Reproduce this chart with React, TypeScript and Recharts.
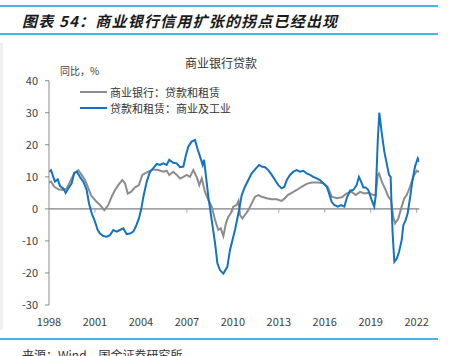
import React from 'react';
import { LineChart, Line, XAxis, YAxis, ReferenceLine } from 'recharts';

const seriesNames = ['商业银行：贷款和租赁', '贷款和租赁：商业及工业'];
const xTicks = [1998, 2001, 2004, 2007, 2010, 2013, 2016, 2019, 2022];
const yTicks = [-30, -20, -10, 0, 10, 20, 30, 40];

const grayYears = [
  1998.0, 1998.13, 1998.35, 1998.61, 1998.93, 1999.16, 1999.37, 1999.65, 1999.91, 2000.13,
  2000.35, 2000.53, 2000.74, 2000.96, 2001.11, 2001.33, 2001.61, 2001.87, 2002.09, 2002.31,
  2002.52, 2002.78, 2002.96, 2003.14, 2003.35, 2003.61, 2003.87, 2004.09, 2004.27, 2004.48,
  2004.81, 2005.13, 2005.46, 2005.68, 2005.85, 2006.11, 2006.34, 2006.55, 2006.77, 2006.99,
  2007.2, 2007.42, 2007.64, 2007.81, 2007.97, 2008.18, 2008.4, 2008.62, 2008.84, 2009.05,
  2009.21, 2009.38, 2009.55, 2009.7, 2009.86, 2010.03, 2010.25, 2010.37, 2010.47, 2010.62,
  2010.79, 2011.01, 2011.23, 2011.45, 2011.66, 2011.88, 2012.21, 2012.54, 2012.86, 2013.19,
  2013.4, 2013.58, 2013.84, 2014.17, 2014.49, 2014.82, 2015.15, 2015.58, 2015.9, 2016.19,
  2016.45, 2016.78, 2017.11, 2017.43, 2017.76, 2018.02, 2018.3, 2018.58, 2018.89, 2019.17,
  2019.32, 2019.46, 2019.54, 2019.72, 2019.93, 2020.15, 2020.32, 2020.47, 2020.59, 2020.8,
  2021.02, 2021.19, 2021.35, 2021.56, 2021.78, 2022.0, 2022.17,
];
const grayValues = [
  8.3, 8.5, 6.9, 6.1, 5.9, 6.4, 8.5, 11.1, 12.1, 10.6,
  9.0, 6.9, 4.3, 3.0, 2.2, 1.2, -0.4, 1.2, 3.8, 5.9,
  7.4, 9.0, 8.0, 4.8, 5.3, 6.7, 7.4, 10.6, 11.1, 11.6,
  12.3, 12.1, 11.6, 11.9, 10.6, 11.6, 10.6, 9.5, 10.0, 10.6,
  10.0, 12.1, 10.0, 7.4, 9.5, 5.3, 2.75, 0.7, -3.5, -6.6,
  -6.1, -8.5, -4.5, -2.5, -1.4, 0.7, 1.2, 2.5, -1.9, -3.0,
  -1.9, -0.4, 1.7, 3.8, 4.3, 3.8, 3.3, 3.0, 3.0, 2.5,
  3.3, 4.3, 5.0, 5.9, 6.9, 7.8, 8.2, 8.2, 8.0, 6.9,
  3.8, 3.3, 3.6, 4.8, 5.3, 4.3, 5.3, 4.8, 5.0, 4.3,
  4.3, 10.6, 11.1, 8.5, 6.4, 3.8, 2.75, -2.5, -4.5, -3.0,
  0.7, 3.3, 4.3, 6.9, 10.0, 11.9, 11.6,
];

const blueYears = [
  1998.0, 1998.13, 1998.28, 1998.39, 1998.57, 1998.72, 1998.93, 1999.09, 1999.26, 1999.48,
  1999.65, 1999.81, 2000.02, 2000.24, 2000.46, 2000.61, 2000.79, 2001.0, 2001.18, 2001.33,
  2001.54, 2001.77, 2001.98, 2002.2, 2002.42, 2002.63, 2002.85, 2003.07, 2003.29, 2003.5,
  2003.66, 2003.87, 2004.05, 2004.16, 2004.38, 2004.59, 2004.81, 2005.03, 2005.25, 2005.46,
  2005.68, 2005.85, 2006.11, 2006.34, 2006.55, 2006.77, 2006.94, 2007.09, 2007.31, 2007.53,
  2007.68, 2007.86, 2008.03, 2008.12, 2008.25, 2008.4, 2008.62, 2008.84, 2008.99, 2009.16,
  2009.38, 2009.64, 2009.81, 2010.14, 2010.4, 2010.58, 2010.79, 2011.01, 2011.23, 2011.45,
  2011.71, 2011.88, 2012.1, 2012.31, 2012.54, 2012.75, 2012.97, 2013.19, 2013.36, 2013.52,
  2013.73, 2013.95, 2014.17, 2014.38, 2014.6, 2014.82, 2015.04, 2015.25, 2015.47, 2015.69,
  2015.9, 2016.13, 2016.28, 2016.45, 2016.62, 2016.84, 2017.06, 2017.28, 2017.43, 2017.65,
  2017.86, 2018.08, 2018.23, 2018.37, 2018.52, 2018.67, 2018.84, 2019.06, 2019.23, 2019.32,
  2019.46, 2019.56, 2019.72, 2019.89, 2020.04, 2020.19, 2020.3, 2020.37, 2020.43, 2020.54,
  2020.7, 2020.85, 2021.02, 2021.13, 2021.28, 2021.41, 2021.56, 2021.71, 2021.89, 2022.07,
  2022.17,
];
const blueValues = [
  11.6, 12.1, 10.0, 8.5, 9.2, 7.1, 6.4, 5.0, 6.4, 8.0,
  11.3, 11.6, 10.0, 8.5, 5.9, 1.7, -1.4, -4.0, -6.6, -7.7,
  -8.5, -8.7, -8.2, -6.6, -7.1, -6.6, -6.1, -7.9, -7.7, -7.1,
  -5.6, -3.0, 0.7, 3.8, 8.5, 11.6, 12.7, 14.0, 13.7, 14.2,
  13.7, 15.3, 14.4, 14.2, 13.0, 13.2, 16.8, 19.4, 21.0, 21.5,
  18.9, 16.3, 13.7, 15.3, 10.0, 3.8, -3.5, -10.8, -17.0, -19.1,
  -20.2, -18.1, -12.9, -6.6, -0.5, 4.3, 6.9, 9.0, 11.1, 12.3,
  13.7, 13.2, 13.0, 12.1, 10.6, 9.0, 7.4, 6.4, 6.9, 9.0,
  10.6, 11.6, 12.1, 11.6, 11.9, 11.1, 10.6, 10.0, 9.5, 9.0,
  8.0, 6.9, 4.8, 2.2, 1.2, 0.7, 1.2, 0.7, 3.3, 5.7,
  5.9, 7.4, 10.0, 8.5, 6.7, 6.7, 5.9, 2.75, 0.7, 3.8,
  21.5, 30.0, 23.6, 17.8, 14.2, 10.6, 10.0, -0.4, -7.7, -16.5,
  -15.5, -13.4, -9.75, -5.1, -3.5, -1.4, 3.3, 8.5, 13.2, 15.8,
  14.7,
];

const grayData = grayYears.map((x, i) => ({ x, v: grayValues[i] }));
const blueData = blueYears.map((x, i) => ({ x, v: blueValues[i] }));

const FONT = '"Noto Sans CJK SC", "Noto Sans", sans-serif';
const GRAY = '#8c8c8c';
const BLUE = '#1372c4';
const RULE = '#48b6e8';

const legendItems = [
  { name: seriesNames[0], color: GRAY },
  { name: seriesNames[1], color: BLUE },
];

export default function App() {
  return (
    <div
      style={{
        position: 'absolute',
        left: 0,
        top: 0,
        width: 454,
        height: 356,
        background: '#fff',
        overflow: 'hidden',
        fontFamily: FONT,
      }}
    >
      <div style={{ position: 'absolute', left: 0, top: 5, width: 438, height: 2, background: RULE }} />
      <div
        style={{
          position: 'absolute',
          left: 22,
          top: 12,
          fontSize: 15,
          lineHeight: '18px',
          fontStyle: 'italic',
          fontWeight: 700,
          letterSpacing: 1.2,
          color: '#1a1a1a',
          whiteSpace: 'nowrap',
        }}
      >
        图表 54：商业银行信用扩张的拐点已经出现
      </div>
      <div style={{ position: 'absolute', left: 0, top: 33, width: 438, height: 2, background: RULE }} />
      <div style={{ position: 'absolute', left: 0, top: 43, width: 3, height: 287, background: '#f0f0f0' }} />

      <div style={{ position: 'absolute', left: 0, top: 0 }}>
        <LineChart
          width={454}
          height={356}
          margin={{ top: 80.7, right: 34.7, bottom: 31, left: 0 }}
        >
          <XAxis
            type="number"
            dataKey="x"
            domain={[1998, 2022.17]}
            ticks={xTicks}
            allowDataOverflow
            axisLine={false}
            tickLine={false}
            tickSize={0}
            tickMargin={13}
            height={20}
            interval={0}
            tick={{ fill: '#404040', fontSize: 11, fontFamily: FONT }}
          />
          <YAxis
            type="number"
            domain={[-30, 40]}
            ticks={yTicks}
            width={49}
            interval={0}
            axisLine={{ stroke: '#8a8a8a', strokeWidth: 1 }}
            tickLine={{ stroke: '#8a8a8a', strokeWidth: 1 }}
            tickSize={4}
            tickMargin={7}
            tick={{ fill: '#404040', fontSize: 11, fontFamily: FONT }}
          />
          <ReferenceLine y={0} stroke="#a3a3a3" strokeWidth={1.6} />
          {xTicks.slice(1).map((t) => (
            <ReferenceLine
              key={t}
              segment={[{ x: t, y: 0 }, { x: t, y: -1.2 }]}
              stroke="#a3a3a3"
              strokeWidth={1}
              ifOverflow="visible"
            />
          ))}
          <Line
            data={grayData}
            dataKey="v"
            name={seriesNames[0]}
            type="linear"
            stroke={GRAY}
            strokeWidth={2}
            dot={false}
            activeDot={false}
            isAnimationActive={false}
          />
          <Line
            data={blueData}
            dataKey="v"
            name={seriesNames[1]}
            type="linear"
            stroke={BLUE}
            strokeWidth={2}
            dot={false}
            activeDot={false}
            isAnimationActive={false}
          />
        </LineChart>
      </div>

      <div
        style={{
          position: 'absolute',
          left: 80,
          top: 83.4,
          fontSize: 11,
          color: '#333',
        }}
      >
        {legendItems.map((it) => (
          <div key={it.name} style={{ display: 'flex', alignItems: 'center', height: 16.6 }}>
            <div style={{ width: 27, height: 2, background: it.color, marginRight: 3 }} />
            <span style={{ lineHeight: '16px', whiteSpace: 'nowrap' }}>{it.name}</span>
          </div>
        ))}
      </div>

      <div
        style={{
          position: 'absolute',
          left: 60,
          top: 64,
          fontSize: 10,
          lineHeight: '14px',
          color: '#404040',
          whiteSpace: 'nowrap',
        }}
      >
        同比，%
      </div>
      <div
        style={{
          position: 'absolute',
          left: 160,
          top: 55,
          width: 122,
          textAlign: 'center',
          fontSize: 12,
          lineHeight: '16px',
          color: '#333',
          whiteSpace: 'nowrap',
        }}
      >
        商业银行贷款
      </div>

      <div style={{ position: 'absolute', left: 0, top: 338, width: 438, height: 2, background: RULE }} />
      <div
        style={{
          position: 'absolute',
          left: 22,
          top: 348,
          fontSize: 12,
          lineHeight: '14px',
          color: '#333',
          whiteSpace: 'nowrap',
        }}
      >
        来源：Wind，国金证券研究所
      </div>
    </div>
  );
}
